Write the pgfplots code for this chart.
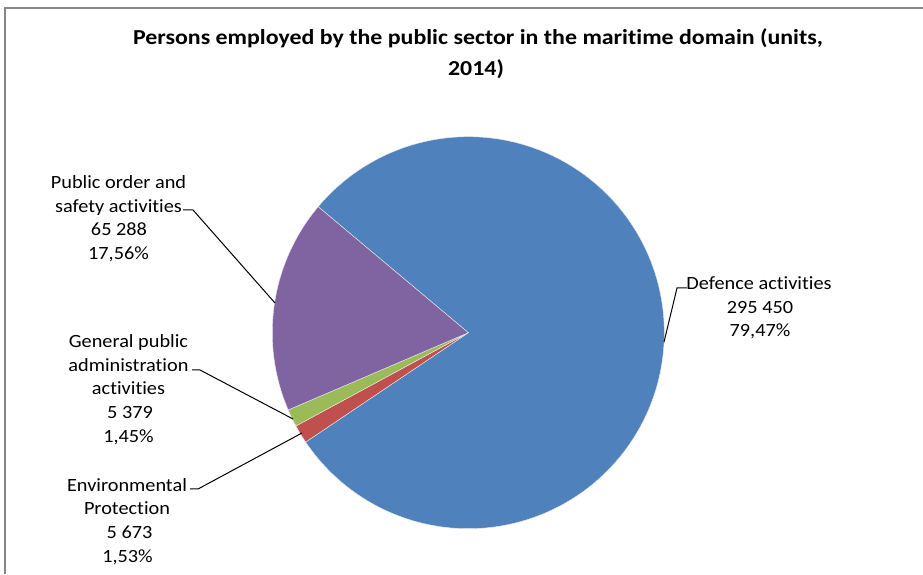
\documentclass[border=0pt]{standalone}
\usepackage{graphicx}
\usepackage{pgfplots}
\pgfplotsset{compat=1.18}
\usepackage{pgfplotstable}
\usepackage{fontspec}
\setmainfont{Carlito}[Ligatures={NoCommon,NoContextual}]
\definecolor{cDef}{HTML}{4F81BD}
\definecolor{cEnv}{HTML}{C0504D}
\definecolor{cGen}{HTML}{9BBB59}
\definecolor{cPub}{HTML}{8064A2}
\definecolor{cFrame}{HTML}{868686}

\pgfplotstableread{
key value
Defence 295450
Environmental 5673
General 5379
PublicOrder 65288
}\piedata

\newcommand\lblfont{\fontsize{14}{17}\selectfont}
\newcommand\ttlfont{\fontsize{16}{19}\selectfont\bfseries}
\newcommand\lbl[3]{\node[anchor=base, inner sep=0pt, font=\lblfont] at (axis cs:#1,#2) {\scalebox{1.087}[1]{#3}};}
\newcommand\ttl[3]{\node[anchor=base, inner sep=0pt, font=\ttlfont] at (axis cs:#1,#2) {\scalebox{1.12}[1]{#3}};}

\begin{document}%
\begin{tikzpicture}
\pgfplotstablegetelem{0}{value}\of\piedata\edef\vA{\pgfplotsretval}
\pgfplotstablegetelem{1}{value}\of\piedata\edef\vB{\pgfplotsretval}
\pgfplotstablegetelem{2}{value}\of\piedata\edef\vC{\pgfplotsretval}
\pgfplotstablegetelem{3}{value}\of\piedata\edef\vD{\pgfplotsretval}
\edef\tot{\fpeval{\vA+\vB+\vC+\vD}}
\def\S{140}
\edef\aA{\fpeval{round(\S-360*\vA/\tot,4)}}
\edef\aB{\fpeval{round(\aA-360*\vB/\tot,4)}}
\edef\aC{\fpeval{round(\aB-360*\vC/\tot,4)}}
\edef\aD{\fpeval{round(\aC-360*\vD/\tot,4)}}
\def\cx{468.3}
\def\cy{241.3}
\def\r{196}
\useasboundingbox (0,0) rectangle (692.25pt,430.5pt);
\begin{axis}[
  at={(0,0)}, anchor=south west,
  scale only axis, width=692.25pt, height=430.5pt,
  xmin=0, xmax=923, ymin=0, ymax=574,
  hide axis, clip=false, no markers,
]
% frame
\draw[cFrame, line width=1.5pt] (axis cs:4.5,0) -- (axis cs:4.5,565.5) -- (axis cs:923,565.5);
% pie wedges
\addplot[fill=cDef, draw=white!85!gray, line width=0.3pt, domain=\aA:\S, samples=240]
  ({\cx+\r*cos(x)},{\cy+\r*sin(x)}) -- (axis cs:\cx,\cy) -- cycle;
\addplot[fill=cEnv, draw=white!85!gray, line width=0.3pt, domain=\aB:\aA, samples=12]
  ({\cx+\r*cos(x)},{\cy+\r*sin(x)}) -- (axis cs:\cx,\cy) -- cycle;
\addplot[fill=cGen, draw=white!85!gray, line width=0.3pt, domain=\aC:\aB, samples=12]
  ({\cx+\r*cos(x)},{\cy+\r*sin(x)}) -- (axis cs:\cx,\cy) -- cycle;
\addplot[fill=cPub, draw=white!85!gray, line width=0.3pt, domain=\aD:\aC, samples=80]
  ({\cx+\r*cos(x)},{\cy+\r*sin(x)}) -- (axis cs:\cx,\cy) -- cycle;
% title
\ttl{478}{529}{Persons employed by the public sector in the maritime domain (units,}
\ttl{476}{498}{2014)}
% leader lines
\draw[black, line width=0.75pt] (axis cs:664,232) -- (axis cs:677,286) -- (axis cs:687,286);
\draw[black, line width=0.75pt] (axis cs:183,364) -- (axis cs:193,364) -- (axis cs:275,271);
\draw[black, line width=0.75pt] (axis cs:192,204) -- (axis cs:200,204) -- (axis cs:293,155);
\draw[black, line width=0.75pt] (axis cs:190,85) -- (axis cs:198,85) -- (axis cs:302,141);
% labels
\lbl{759}{284}{Defence activities}
\lbl{760}{260}{295 450}
\lbl{760}{237}{79,47\%}
\lbl{118.5}{385}{Public order and}
\lbl{118.5}{361}{safety activities}
\lbl{119}{338}{65 288}
\lbl{118.5}{314}{17,56\%}
\lbl{128.5}{226.5}{General public}
\lbl{128.5}{202.8}{administration}
\lbl{128.5}{179.1}{activities}
\lbl{130}{155.4}{5 379}
\lbl{128.5}{131.7}{1,45\%}
\lbl{127}{82}{Environmental}
\lbl{127}{59}{Protection}
\lbl{129.5}{35}{5 673}
\lbl{127.5}{12}{1,53\%}
\end{axis}
\end{tikzpicture}%
\end{document}
